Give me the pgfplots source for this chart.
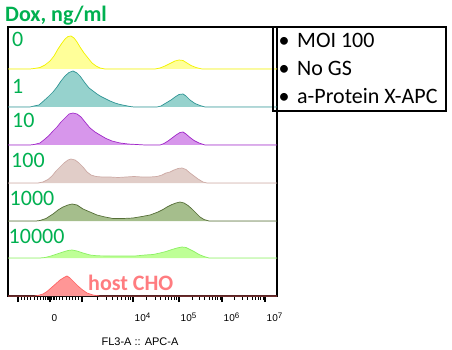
\documentclass[border=0pt]{standalone}
\usepackage{pgfplots}
\pgfplotsset{compat=1.18}
\usepackage{fontspec}
\setmainfont{Carlito}
\newfontfamily\arialfont{Liberation Sans}
\definecolor{doxgreen}{HTML}{00B050}
\definecolor{hostred}{HTML}{FF7C80}
\definecolor{yfill}{HTML}{FFFF99}\definecolor{yline}{HTML}{F2F200}
\definecolor{tfill}{HTML}{96D2CD}\definecolor{tline}{HTML}{329696}
\definecolor{pfill}{HTML}{D796EB}\definecolor{pline}{HTML}{A028C8}
\definecolor{bfill}{HTML}{E1CDC8}\definecolor{bline}{HTML}{CDAAA5}
\definecolor{ofill}{HTML}{A5BE8C}\definecolor{oline}{HTML}{556E37}
\definecolor{gfill}{HTML}{BEFF96}\definecolor{gline}{HTML}{8CF064}
\definecolor{rfill}{HTML}{FF9696}\definecolor{rline}{HTML}{FF6464}
\newcommand{\tenpow}[1]{10\raisebox{0.6ex}{\fontsize{8}{9}\selectfont #1}}
\begin{document}
\begin{tikzpicture}
\path[use as bounding box] (0,0) rectangle (452pt,350pt);
\begin{axis}[
  at={(8pt,54pt)}, anchor=south west,
  scale only axis, width=269pt, height=269pt,
  xmin=8, xmax=277, ymin=27, ymax=296, y dir=reverse,
  clip=false,
  axis line style={line width=1.2pt},
  ytick=\empty,
  xtick pos=lower, tick align=outside,
  major tick length=6pt, minor tick length=3.5pt,
  every major tick/.style={black, line width=1.3pt},
  every minor tick/.style={black, line width=0.9pt},
  xtick={18,50,82,133,179,222,265},
  xticklabels={,0,,\tenpow{4},\tenpow{5},\tenpow{6},\tenpow{7}},
  minor xtick={21.2,24.4,27.6,30.8,34,37.2,40.4,43.6,45.5,47,48.5,51.5,53,54.5,56.4,59.6,62.8,66,69.2,72.4,75.6,78.8,
    97.4,106.3,112.7,117.6,121.7,125.1,128.1,130.7,
    146.8,155.0,160.7,165.2,168.8,171.9,174.5,176.9,
    192.0,199.5,204.9,209.1,212.5,215.3,217.8,220.0,
    234.9,242.5,247.9,252.1,255.5,258.3,260.8,263.0},
  xticklabel style={font=\arialfont\fontsize{10}{11}\selectfont, anchor=north west, inner sep=0pt, text height=10pt, text depth=0pt, xshift=1.5pt, yshift=-9pt},
]
% row 0 (Dox 0)
\addplot[fill=yfill, draw=yline, line width=0.7pt] coordinates {
(8,69)(30,69)(34,68.5)(40,67.5)(45,65)(50,61)(54,56)(58,49)(62,43)(65,39)(68,36.5)(71,36)(74,38)(77,42)(80,47)(84,53)(88,58)(92,63)(96,66)(100,68)(105,69)(155,69)(160,68)(165,66)(170,63.5)(175,61)(179,60)(183,60.5)(187,63)(191,65.5)(196,67.5)(202,69)(277,69)};
% row 1 (Dox 1)
\addplot[fill=tfill, draw=tline, line width=0.7pt] coordinates {
(8,107)(30,107)(34,106)(39,105)(43,101.5)(48,97)(53,92)(57,87)(61,81)(65,76)(69,72.5)(73,71)(77,73)(80,76)(85,83)(89,88)(93,91)(97,94)(101,96.5)(106,99)(110,101)(115,103)(120,104.5)(125,105.5)(130,106.5)(134,107)(157,107)(161,106)(166,103)(171,100)(175,97)(179,94.5)(183,94)(186,96)(190,100)(195,103.5)(200,105.5)(205,107)(277,107)};
% row 2 (Dox 10)
\addplot[fill=pfill, draw=pline, line width=0.7pt] coordinates {
(8,145)(30,145)(34,144.5)(40,143)(45,139)(49,135.5)(53,131)(57,127)(61,122)(65,118)(69,114)(73,113)(77,114)(81,117)(85,122)(90,128)(95,132)(100,135)(106,138.5)(112,141)(120,143)(128,144)(140,144.7)(145,145)(160,145)(164,143.5)(168,141)(172,138)(176,135)(180,132.5)(183,132)(186,134)(190,137.5)(194,140.5)(199,143)(205,145)(277,145)};
% row 3 (Dox 100)
\addplot[fill=bfill, draw=bline, line width=0.7pt] coordinates {
(8,183)(38,183)(43,182)(48,179.5)(52,176)(56,171)(60,167)(64,163)(68,160)(71,159)(75,160)(79,163)(83,167)(87,172)(91,175)(96,176.5)(102,177)(110,177)(118,177.5)(126,177)(134,176.5)(142,177)(150,177)(157,176.5)(162,175)(166,173)(170,172)(174,170)(178,168.5)(182,168)(186,169.5)(190,173)(194,176)(198,179)(203,182)(207,183)(277,183)};
% row 4 (Dox 1000)
\addplot[fill=ofill, draw=oline, line width=0.7pt] coordinates {
(8,221)(36,221)(40,220.5)(46,218.5)(53,214)(58,210)(63,207)(68,205)(72,204)(77,205)(83,209)(90,212)(97,215)(105,217)(113,218.5)(123,218.5)(133,218)(142,216.5)(150,215)(158,212)(163,209.5)(167,207)(172,204.5)(176,203)(180,202)(184,203)(188,205.5)(192,209)(196,213)(200,217)(204,219.5)(209,221)(277,221)};
% row 5 (Dox 10000)
\addplot[fill=gfill, draw=gline, line width=0.7pt] coordinates {
(8,258)(40,258)(45,257.5)(51,256)(57,254)(63,252)(68,250.5)(72,250)(77,251)(83,253)(90,255)(97,255.8)(110,256)(125,256)(135,256)(145,255)(153,254.5)(160,253)(166,251.5)(172,249.5)(177,248)(182,247)(186,247.5)(190,249.5)(194,251.5)(199,254.5)(204,256.5)(209,258)(277,258)};
% row 6 (host CHO)
\addplot[fill=rfill, draw=rline, line width=0.7pt] coordinates {
(8,296)(34,296)(38,295.5)(43,294)(47,291.5)(51,288)(55,284.5)(60,280)(64,277.5)(67,276)(70,278)(74,282)(78,286)(82,289.5)(87,293)(93,295)(100,296)(277,296)};

% labels
\node[anchor=base west, inner sep=0pt, text=doxgreen, font=\bfseries\fontsize{22}{26}\selectfont] at (axis cs:5,22) {Dox, ng/ml};
\begin{scope}[every node/.style={anchor=base west, inner sep=0pt, text=doxgreen, font=\fontsize{22}{26}\selectfont}]
\node at (axis cs:12,47) {0};
\node at (axis cs:12,94) {1};
\node at (axis cs:12,128) {10};
\node at (axis cs:11,167) {100};
\node at (axis cs:9.5,205) {1000};
\node at (axis cs:8.5,243) {10000};
\end{scope}
\node[anchor=base west, inner sep=0pt, text=hostred, font=\bfseries\fontsize{22}{26}\selectfont] at (axis cs:88,290) {host CHO};
% info box
\draw[line width=1.2pt] (axis cs:273,27) rectangle (axis cs:446,111);
\begin{scope}[every node/.style={inner sep=0pt, font=\fontsize{22}{26}\selectfont}]
\node[anchor=base] at (axis cs:284,48) {•};
\node[anchor=base west] at (axis cs:297,48) {MOI 100};
\node[anchor=base] at (axis cs:284,76) {•};
\node[anchor=base west] at (axis cs:297,76) {No GS};
\node[anchor=base] at (axis cs:284,104) {•};
\node[anchor=base west] at (axis cs:297,104) {a-Protein X-APC};
\end{scope}
\node[anchor=base, inner sep=0pt, font=\arialfont\fontsize{11}{13}\selectfont] at (axis cs:140,345) {FL3-A :: APC-A};
\end{axis}
\end{tikzpicture}
\end{document}
